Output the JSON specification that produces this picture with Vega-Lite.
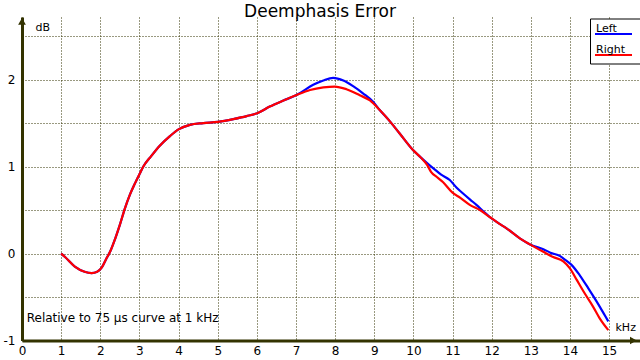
{
  "$schema": "https://vega.github.io/schema/vega-lite/v6.json",
  "width": 618,
  "height": 323.5,
  "autosize": {"type": "none"},
  "padding": {"left": 22, "top": 17, "right": 0, "bottom": 19.5},
  "background": "white",
  "title": {"text": "Deemphasis Error", "font": "DejaVu Sans", "fontSize": 17, "fontWeight": "normal", "color": "black", "anchor": "middle", "frame": "group", "dx": -11, "dy": 19, "offset": 2, "baseline": "alphabetic"},
  "config": {
    "view": {"stroke": null},
    "axis": {
      "domainColor": "#333300", "domainWidth": 3, "grid": true, "gridColor": "#333300", "gridDash": [1, 2], "gridWidth": 1, "gridOpacity": 1,
      "ticks": false, "tickSize": 0, "labelFont": "DejaVu Sans", "labelFontSize": 12, "labelColor": "black",
      "titleFont": "DejaVu Sans", "titleFontSize": 11, "titleFontWeight": "normal", "titleColor": "black"
    },
    "legend": {
      "orient": "none", "legendX": 568, "legendY": 1.5, "fillColor": "white", "strokeColor": "black", "padding": 4,
      "symbolType": "M-1,1.1H6.4", "symbolSize": 100, "symbolStrokeWidth": 2, "labelOffset": -10, "rowPadding": 5,
      "labelFont": "DejaVu Sans", "labelFontSize": 11, "labelColor": "black"
    }
  },
  "layer": [
    {
      "data": {"values": [
        {"kHz": 1.0, "dB": 0.0, "channel": "Left"}, {"kHz": 1.1, "dB": -0.04, "channel": "Left"}, {"kHz": 1.35, "dB": -0.15, "channel": "Left"}, {"kHz": 1.6, "dB": -0.21, "channel": "Left"}, {"kHz": 1.78, "dB": -0.225, "channel": "Left"}, {"kHz": 1.92, "dB": -0.21, "channel": "Left"}, {"kHz": 2.04, "dB": -0.16, "channel": "Left"}, {"kHz": 2.16, "dB": -0.055, "channel": "Left"}, {"kHz": 2.25, "dB": 0.02, "channel": "Left"}, {"kHz": 2.38, "dB": 0.17, "channel": "Left"}, {"kHz": 2.5, "dB": 0.33, "channel": "Left"}, {"kHz": 2.63, "dB": 0.52, "channel": "Left"}, {"kHz": 2.76, "dB": 0.68, "channel": "Left"}, {"kHz": 2.89, "dB": 0.81, "channel": "Left"}, {"kHz": 3.01, "dB": 0.92, "channel": "Left"}, {"kHz": 3.1, "dB": 1.0, "channel": "Left"}, {"kHz": 3.3, "dB": 1.12, "channel": "Left"}, {"kHz": 3.52, "dB": 1.24, "channel": "Left"}, {"kHz": 3.78, "dB": 1.35, "channel": "Left"}, {"kHz": 4.01, "dB": 1.43, "channel": "Left"}, {"kHz": 4.29, "dB": 1.48, "channel": "Left"}, {"kHz": 4.63, "dB": 1.5, "channel": "Left"}, {"kHz": 5.01, "dB": 1.515, "channel": "Left"}, {"kHz": 5.4, "dB": 1.546, "channel": "Left"}, {"kHz": 5.74, "dB": 1.58, "channel": "Left"}, {"kHz": 6.04, "dB": 1.62, "channel": "Left"}, {"kHz": 6.33, "dB": 1.69, "channel": "Left"}, {"kHz": 6.68, "dB": 1.76, "channel": "Left"}, {"kHz": 7.0, "dB": 1.82, "channel": "Left"}, {"kHz": 7.1, "dB": 1.845, "channel": "Left"}, {"kHz": 7.44, "dB": 1.94, "channel": "Left"}, {"kHz": 7.7, "dB": 1.99, "channel": "Left"}, {"kHz": 7.95, "dB": 2.02, "channel": "Left"}, {"kHz": 8.21, "dB": 1.99, "channel": "Left"}, {"kHz": 8.46, "dB": 1.925, "channel": "Left"}, {"kHz": 8.72, "dB": 1.84, "channel": "Left"}, {"kHz": 8.97, "dB": 1.745, "channel": "Left"}, {"kHz": 9.14, "dB": 1.65, "channel": "Left"}, {"kHz": 9.4, "dB": 1.52, "channel": "Left"}, {"kHz": 9.65, "dB": 1.38, "channel": "Left"}, {"kHz": 9.99, "dB": 1.19, "channel": "Left"}, {"kHz": 10.2, "dB": 1.1, "channel": "Left"}, {"kHz": 10.35, "dB": 1.04, "channel": "Left"}, {"kHz": 10.51, "dB": 0.98, "channel": "Left"}, {"kHz": 10.7, "dB": 0.91, "channel": "Left"}, {"kHz": 10.93, "dB": 0.845, "channel": "Left"}, {"kHz": 11.1, "dB": 0.76, "channel": "Left"}, {"kHz": 11.27, "dB": 0.69, "channel": "Left"}, {"kHz": 11.45, "dB": 0.62, "channel": "Left"}, {"kHz": 11.61, "dB": 0.56, "channel": "Left"}, {"kHz": 11.8, "dB": 0.48, "channel": "Left"}, {"kHz": 11.95, "dB": 0.42, "channel": "Left"}, {"kHz": 12.17, "dB": 0.35, "channel": "Left"}, {"kHz": 12.38, "dB": 0.29, "channel": "Left"}, {"kHz": 12.72, "dB": 0.175, "channel": "Left"}, {"kHz": 12.98, "dB": 0.105, "channel": "Left"}, {"kHz": 13.32, "dB": 0.05, "channel": "Left"}, {"kHz": 13.5, "dB": 0.01, "channel": "Left"}, {"kHz": 13.75, "dB": -0.03, "channel": "Left"}, {"kHz": 13.9, "dB": -0.08, "channel": "Left"}, {"kHz": 14.04, "dB": -0.13, "channel": "Left"}, {"kHz": 14.25, "dB": -0.25, "channel": "Left"}, {"kHz": 14.47, "dB": -0.4, "channel": "Left"}, {"kHz": 14.68, "dB": -0.55, "channel": "Left"}, {"kHz": 14.89, "dB": -0.71, "channel": "Left"}, {"kHz": 14.98, "dB": -0.78, "channel": "Left"},
        {"kHz": 1.0, "dB": 0.0, "channel": "Right"}, {"kHz": 1.1, "dB": -0.04, "channel": "Right"}, {"kHz": 1.35, "dB": -0.15, "channel": "Right"}, {"kHz": 1.6, "dB": -0.21, "channel": "Right"}, {"kHz": 1.78, "dB": -0.225, "channel": "Right"}, {"kHz": 1.92, "dB": -0.21, "channel": "Right"}, {"kHz": 2.04, "dB": -0.16, "channel": "Right"}, {"kHz": 2.16, "dB": -0.055, "channel": "Right"}, {"kHz": 2.25, "dB": 0.02, "channel": "Right"}, {"kHz": 2.38, "dB": 0.17, "channel": "Right"}, {"kHz": 2.5, "dB": 0.33, "channel": "Right"}, {"kHz": 2.63, "dB": 0.52, "channel": "Right"}, {"kHz": 2.76, "dB": 0.68, "channel": "Right"}, {"kHz": 2.89, "dB": 0.81, "channel": "Right"}, {"kHz": 3.01, "dB": 0.92, "channel": "Right"}, {"kHz": 3.1, "dB": 1.0, "channel": "Right"}, {"kHz": 3.3, "dB": 1.12, "channel": "Right"}, {"kHz": 3.52, "dB": 1.24, "channel": "Right"}, {"kHz": 3.78, "dB": 1.35, "channel": "Right"}, {"kHz": 4.01, "dB": 1.43, "channel": "Right"}, {"kHz": 4.29, "dB": 1.48, "channel": "Right"}, {"kHz": 4.63, "dB": 1.5, "channel": "Right"}, {"kHz": 5.01, "dB": 1.515, "channel": "Right"}, {"kHz": 5.4, "dB": 1.546, "channel": "Right"}, {"kHz": 5.74, "dB": 1.58, "channel": "Right"}, {"kHz": 6.04, "dB": 1.62, "channel": "Right"}, {"kHz": 6.33, "dB": 1.69, "channel": "Right"}, {"kHz": 6.68, "dB": 1.76, "channel": "Right"}, {"kHz": 7.0, "dB": 1.82, "channel": "Right"}, {"kHz": 7.36, "dB": 1.88, "channel": "Right"}, {"kHz": 7.7, "dB": 1.91, "channel": "Right"}, {"kHz": 7.99, "dB": 1.92, "channel": "Right"}, {"kHz": 8.29, "dB": 1.89, "channel": "Right"}, {"kHz": 8.63, "dB": 1.82, "channel": "Right"}, {"kHz": 8.89, "dB": 1.76, "channel": "Right"}, {"kHz": 9.14, "dB": 1.65, "channel": "Right"}, {"kHz": 9.4, "dB": 1.52, "channel": "Right"}, {"kHz": 9.65, "dB": 1.38, "channel": "Right"}, {"kHz": 9.99, "dB": 1.19, "channel": "Right"}, {"kHz": 10.2, "dB": 1.1, "channel": "Right"}, {"kHz": 10.35, "dB": 1.02, "channel": "Right"}, {"kHz": 10.45, "dB": 0.94, "channel": "Right"}, {"kHz": 10.6, "dB": 0.88, "channel": "Right"}, {"kHz": 10.76, "dB": 0.82, "channel": "Right"}, {"kHz": 11.0, "dB": 0.7, "channel": "Right"}, {"kHz": 11.2, "dB": 0.64, "channel": "Right"}, {"kHz": 11.44, "dB": 0.56, "channel": "Right"}, {"kHz": 11.7, "dB": 0.5, "channel": "Right"}, {"kHz": 11.95, "dB": 0.42, "channel": "Right"}, {"kHz": 12.17, "dB": 0.35, "channel": "Right"}, {"kHz": 12.38, "dB": 0.29, "channel": "Right"}, {"kHz": 12.72, "dB": 0.175, "channel": "Right"}, {"kHz": 12.98, "dB": 0.105, "channel": "Right"}, {"kHz": 13.32, "dB": 0.02, "channel": "Right"}, {"kHz": 13.57, "dB": -0.04, "channel": "Right"}, {"kHz": 13.83, "dB": -0.09, "channel": "Right"}, {"kHz": 14.0, "dB": -0.17, "channel": "Right"}, {"kHz": 14.17, "dB": -0.3, "channel": "Right"}, {"kHz": 14.38, "dB": -0.46, "channel": "Right"}, {"kHz": 14.59, "dB": -0.61, "channel": "Right"}, {"kHz": 14.76, "dB": -0.745, "channel": "Right"}, {"kHz": 14.98, "dB": -0.88, "channel": "Right"}
      ]},
      "mark": {"type": "line", "interpolate": "monotone", "strokeWidth": 2.2},
      "encoding": {
        "x": {"field": "kHz", "type": "quantitative", "scale": {"domain": [0, 15.79], "nice": false, "zero": false},
              "axis": {"values": [0, 1, 2, 3, 4, 5, 6, 7, 8, 9, 10, 11, 12, 13, 14, 15], "labelPadding": 5, "title": "kHz", "titleAlign": "left", "titleBaseline": "middle", "titleX": 593, "titleY": -13.5, "labelFlush": false}},
        "y": {"field": "dB", "type": "quantitative", "scale": {"domain": [-1, 2.72], "nice": false, "zero": false},
              "axis": {"values": [-1, -0.5, 0, 0.5, 1, 1.5, 2, 2.5], "labelExpr": "datum.value % 1 === 0 ? '' + datum.value : ''", "labelPadding": 7, "title": "dB", "titleAngle": 0, "titleAlign": "left", "titleBaseline": "middle", "titleX": 13, "titleY": 10, "labelFlush": false}},
        "color": {"field": "channel", "type": "nominal", "scale": {"domain": ["Left", "Right"], "range": ["#0000ff", "#ff0000"]}, "legend": {"title": null}}
      }
    },
    {
      "data": {"values": [{"note": "Relative to 75 µs curve at 1 kHz"}]},
      "mark": {"type": "text", "align": "left", "baseline": "middle", "font": "DejaVu Sans", "fontSize": 12, "color": "black"},
      "encoding": {"x": {"datum": 0.12, "type": "quantitative"}, "y": {"datum": -0.747, "type": "quantitative"}, "text": {"field": "note", "type": "nominal"}}
    },
    {
      "data": {"values": [{"arrow": "y"}]},
      "mark": {"type": "point", "shape": "triangle-up", "filled": true, "size": 60, "color": "#333300", "opacity": 1},
      "encoding": {"x": {"datum": 0, "type": "quantitative"}, "y": {"datum": 2.67, "type": "quantitative"}}
    },
    {
      "data": {"values": [{"arrow": "x"}]},
      "mark": {"type": "point", "shape": "triangle-right", "filled": true, "size": 60, "color": "#333300", "opacity": 1},
      "encoding": {"x": {"datum": 15.62, "type": "quantitative"}, "y": {"datum": -1, "type": "quantitative"}}
    }
  ]
}
